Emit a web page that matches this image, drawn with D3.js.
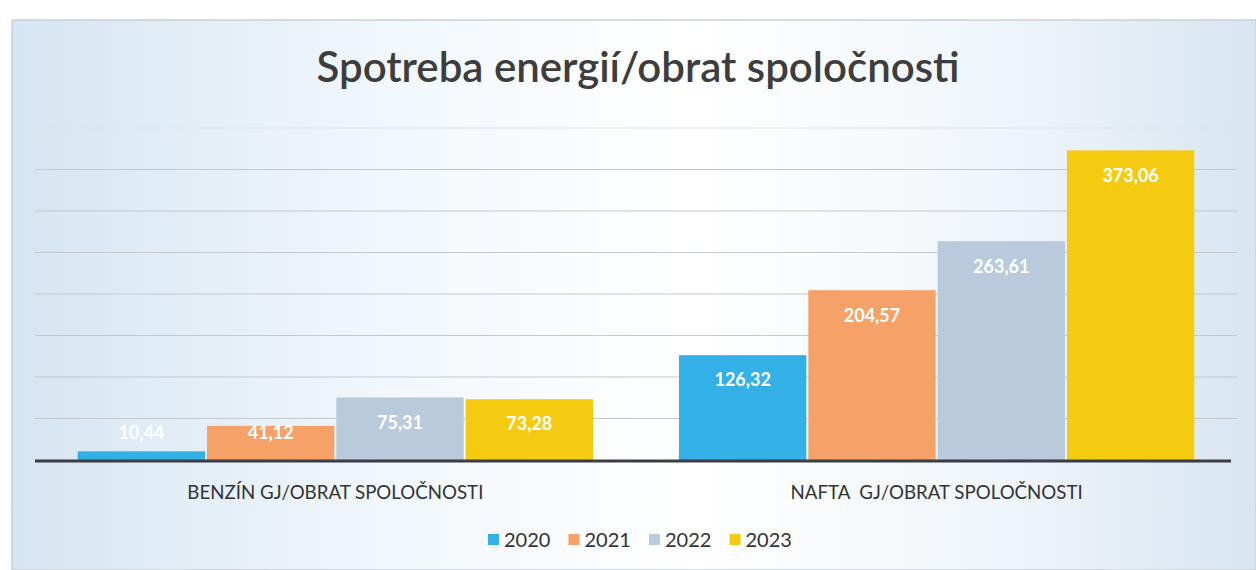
<!DOCTYPE html>
<html>
<head>
<meta charset="utf-8">
<style>
  body { margin: 0; background: #fff; }
  svg { display: block; }
  text { font-family: Lato, "Open Sans", sans-serif; }
</style>
<script src="https://d3js.org/d3.v7.min.js"></script>
</head>
<body>
<svg width="1256" height="570"></svg>
<script>
// chart data
var categories = ["BENZÍN GJ/OBRAT SPOLOČNOSTI", "NAFTA\u00a0 GJ/OBRAT SPOLOČNOSTI"];
var years = ["2020", "2021", "2022", "2023"];
var benzin = [10.44, 41.12, 75.31, 73.28];
var nafta = [126.32, 204.57, 263.61, 373.06];
var yTicks = [0, 50, 100, 150, 200, 250, 300, 350, 400];
var colors = ["#33b1e6", "#f5a167", "#b8cadb", "#f4cb10"];

var svg = d3.select("svg");
var W = 1256, H = 570;
var margin = {left: 35, right: 19, top: 128, bottom: 110};

// scanned-page look: bluish tint on both sides
var defs = svg.append("defs");
var grad = defs.append("linearGradient").attr("id", "bg");
grad.append("stop").attr("offset", "0").attr("stop-color", "#d6e5f2");
grad.append("stop").attr("offset", "0.3").attr("stop-color", "#f1f7fc");
grad.append("stop").attr("offset", "0.55").attr("stop-color", "#ffffff");
grad.append("stop").attr("offset", "0.8").attr("stop-color", "#eff5fa");
grad.append("stop").attr("offset", "1").attr("stop-color", "#d8e5f1");

svg.append("rect").attr("x", 12).attr("y", 20).attr("width", W - 12).attr("height", H - 20)
  .attr("fill", "url(#bg)").attr("stroke", "#c9cfd6").attr("stroke-width", 1.5);

svg.append("text")
  .attr("x", 638).attr("y", 82)
  .attr("text-anchor", "middle")
  .attr("font-size", 42).attr("font-weight", 600)
  .attr("fill", "#3d3d3d")
  .text("Spotreba energií/obrat spoločnosti");

var x0 = d3.scaleBand().domain(categories)
  .range([margin.left, W - margin.right])
  .paddingInner(0.143).paddingOuter(0.071);
var x1 = d3.scaleBand().domain(years).range([0, x0.bandwidth()]).paddingInner(0.015);
var y = d3.scaleLinear().domain([0, 400]).range([H - margin.bottom, margin.top]);

// gridlines (the top one is barely visible in the scan)
svg.append("g").selectAll("line").data(yTicks.slice(1)).join("line")
  .attr("x1", margin.left).attr("x2", W - margin.right)
  .attr("y1", d => y(d)).attr("y2", d => y(d))
  .attr("stroke", d => d === 400 ? "#dde2e7" : "#c3c8cd").attr("stroke-width", 1.2);

var rows = [benzin, nafta];
var groups = svg.append("g").selectAll("g").data(categories).join("g")
  .attr("transform", d => "translate(" + x0(d) + ",0)");

groups.selectAll("rect")
  .data((c, i) => rows[i].map((v, j) => ({year: years[j], value: v, color: colors[j]})))
  .join("rect")
  .attr("x", d => x1(d.year))
  .attr("y", d => y(d.value))
  .attr("width", x1.bandwidth())
  .attr("height", d => y(0) - y(d.value))
  .attr("fill", d => d.color);

groups.selectAll("text")
  .data((c, i) => rows[i].map((v, j) => ({year: years[j], value: v})))
  .join("text")
  .attr("x", d => x1(d.year) + x1.bandwidth() / 2)
  .attr("y", d => Math.min(y(d.value) + 25, y(0) - 27))
  .attr("dy", "0.35em")
  .attr("text-anchor", "middle")
  .attr("font-size", 18).attr("font-weight", 700)
  .attr("fill", "#ffffff")
  .text(d => d3.format(".2f")(d.value).replace(".", ","));

// baseline
svg.append("line")
  .attr("x1", margin.left).attr("x2", W - margin.right - 6)
  .attr("y1", y(0) + 1).attr("y2", y(0) + 1)
  .attr("stroke", "#3a3d44").attr("stroke-width", 3);

svg.append("g").selectAll("text").data(categories).join("text")
  .attr("x", d => x0(d) + x0.bandwidth() / 2)
  .attr("y", 499)
  .attr("text-anchor", "middle")
  .attr("font-size", 18.7)
  .attr("fill", "#333")
  .style("white-space", "pre")
  .text(d => d);

// legend
var legend = svg.append("g").selectAll("g").data(years).join("g")
  .attr("transform", (d, i) => "translate(" + (488 + i * 80.5) + ",540)");
legend.append("rect").attr("x", 0).attr("y", -6).attr("width", 11).attr("height", 11)
  .attr("fill", (d, i) => colors[i]);
legend.append("text").attr("x", 16).attr("y", 0).attr("dy", "0.36em")
  .attr("font-size", 20).attr("fill", "#333").text(d => d);
</script>
</body>
</html>
